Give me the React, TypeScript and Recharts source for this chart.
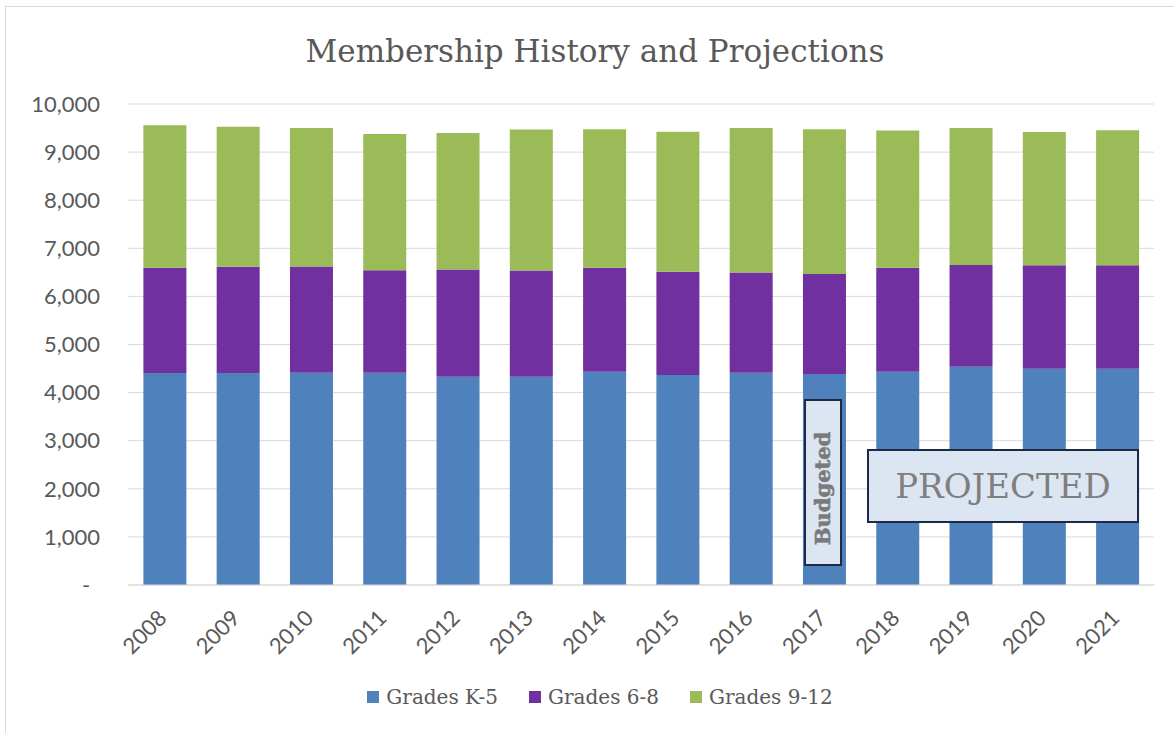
import React from "react";
import { BarChart, Bar, XAxis, YAxis, CartesianGrid } from "recharts";

const years = ["2008", "2009", "2010", "2011", "2012", "2013", "2014", "2015", "2016", "2017", "2018", "2019", "2020", "2021"];
const gradesK5 = [4410, 4410, 4415, 4415, 4330, 4330, 4435, 4365, 4415, 4385, 4435, 4540, 4495, 4495];
const grades68 = [2185, 2205, 2205, 2130, 2230, 2210, 2160, 2150, 2080, 2080, 2160, 2115, 2155, 2155];
const grades912 = [2965, 2910, 2880, 2830, 2835, 2930, 2880, 2910, 3005, 3010, 2855, 2845, 2770, 2805];
const yTicks = [0, 1000, 2000, 3000, 4000, 5000, 6000, 7000, 8000, 9000, 10000];

const SERIES = [
  { key: "k5", name: "Grades K-5", color: "#4F81BD" },
  { key: "g68", name: "Grades 6-8", color: "#7030A0" },
  { key: "g912", name: "Grades 9-12", color: "#9BBB59" },
];

const data = years.map((year, i) => ({
  year,
  k5: gradesK5[i],
  g68: grades68[i],
  g912: grades912[i],
}));

const TEXT_GRAY = "#595959";
const TICK_FONT = "Lato, 'Open Sans', sans-serif";
const SERIF = "'DejaVu Serif', serif";

function YTick({ x, y, payload }: any) {
  const isZero = payload.value === 0;
  return (
    <text
      x={isZero ? x - 14 : x}
      y={y}
      dy="0.35em"
      textAnchor={isZero ? "middle" : "end"}
      fill={TEXT_GRAY}
      fontSize={22}
      fontFamily={TICK_FONT}
    >
      {isZero ? "-" : payload.value.toLocaleString("en-US")}
    </text>
  );
}

function XTick({ x, y, payload }: any) {
  return (
    <g transform={`translate(${x - 2},${y + 21})`}>
      <text
        transform="rotate(-45)"
        dy="0.35em"
        textAnchor="end"
        fill={TEXT_GRAY}
        fontSize={22}
        fontFamily={TICK_FONT}
      >
        {payload.value}
      </text>
    </g>
  );
}

export default function App() {
  return (
    <div style={{ position: "relative", width: 1174, height: 733, overflow: "hidden", background: "#fff" }}>
      <style>{`body { margin: 0; }`}</style>
      {/* chart frame, cropped on the right and bottom like the source */}
      <div
        style={{
          position: "absolute",
          left: 5,
          top: 6,
          width: 1200,
          height: 760,
          border: "1px solid #d9d9d9",
        }}
      />
      <div
        style={{
          position: "absolute",
          top: 29,
          left: 0,
          width: 1190,
          textAlign: "center",
          fontFamily: SERIF,
          fontSize: 31,
          color: TEXT_GRAY,
          lineHeight: "44px",
        }}
      >
        Membership History and Projections
      </div>

      <div style={{ position: "absolute", left: 0, top: 0 }}>
        <BarChart
          width={1174}
          height={733}
          data={data}
          margin={{ top: 104, right: 20, left: 0, bottom: 60 }}
          barCategoryGap="21%"
        >
          <CartesianGrid horizontal vertical={false} stroke="#d9d9d9" />
          <XAxis
            dataKey="year"
            height={88}
            interval={0}
            axisLine={{ stroke: "#d9d9d9" }}
            tickLine={false}
            tick={<XTick />}
          />
          <YAxis
            width={128}
            domain={[0, 10000]}
            ticks={yTicks}
            interval={0}
            axisLine={false}
            tickLine={false}
            tickMargin={22}
            tick={<YTick />}
          />
          {SERIES.map((s) => (
            <Bar
              key={s.key}
              dataKey={s.key}
              name={s.name}
              stackId="members"
              fill={s.color}
              isAnimationActive={false}
            />
          ))}
        </BarChart>
      </div>

      {/* annotation boxes */}
      <div
        style={{
          position: "absolute",
          left: 804,
          top: 399,
          width: 34,
          height: 163,
          background: "#dce6f2",
          border: "2px solid #1c2a48",
          display: "flex",
          alignItems: "center",
          justifyContent: "center",
        }}
      >
        <span
          style={{
            transform: "rotate(-90deg)",
            whiteSpace: "nowrap",
            fontFamily: SERIF,
            fontWeight: "bold",
            fontSize: 21,
            color: "#7a7a7a",
            display: "inline-block",
            marginTop: 12,
            WebkitTextStroke: "0.6px #7a7a7a",
          }}
        >
          Budgeted
        </span>
      </div>
      <div
        style={{
          position: "absolute",
          left: 867,
          top: 449,
          width: 268,
          height: 70,
          background: "#dce6f2",
          border: "2px solid #1c2a48",
          display: "flex",
          alignItems: "center",
          justifyContent: "center",
          fontFamily: SERIF,
          fontSize: 34,
          color: "#7f7f7f",
          whiteSpace: "nowrap",
        }}
      >
        PROJECTED
      </div>

      {/* legend */}
      <div
        style={{
          position: "absolute",
          top: 683,
          left: 13,
          width: 1174,
          display: "flex",
          justifyContent: "center",
          gap: 31,
          fontFamily: SERIF,
          fontSize: 20,
          color: TEXT_GRAY,
          lineHeight: "28px",
        }}
      >
        {SERIES.map((s) => (
          <div key={s.key} style={{ display: "flex", alignItems: "center", gap: 7 }}>
            <span style={{ width: 12, height: 12, background: s.color, display: "inline-block" }} />
            <span>{s.name}</span>
          </div>
        ))}
      </div>
    </div>
  );
}
